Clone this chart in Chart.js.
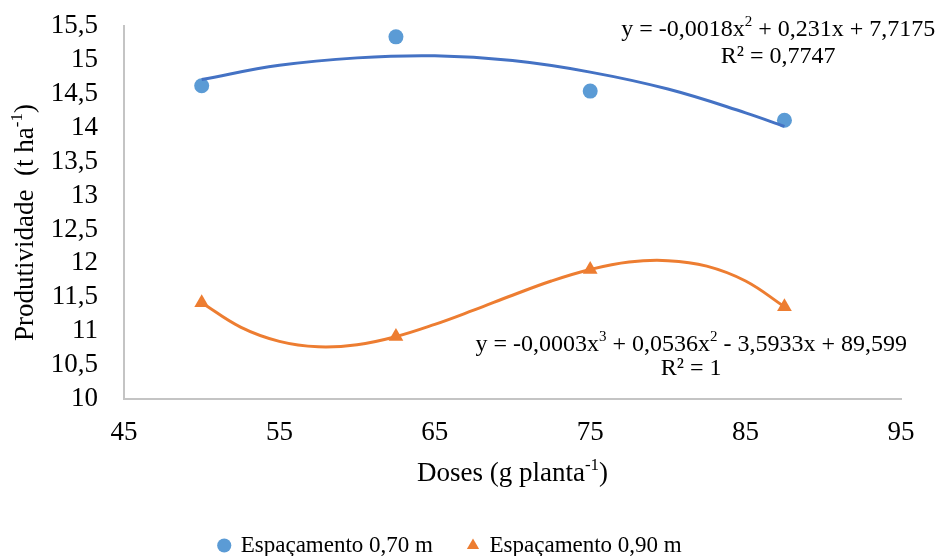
<!DOCTYPE html>
<html lang="pt">
<head>
    <meta charset="UTF-8">
    <title>Produtividade x Doses</title>
    <script src="https://cdn.jsdelivr.net/npm/chart.js"></script>
    <style>
        body { margin: 0; padding: 0; background-color: white; }
        .chart-box { width: 938px; height: 556px; position: relative; }
    </style>
</head>
<body>
    <div class="chart-box">
        <canvas id="grafico"></canvas>
    </div>
    <script>
        // Dados
        const doses = [50, 62.5, 75, 87.5];
        const esp070 = [14.62, 15.34, 14.54, 14.11];
        const esp090 = [11.42, 10.92, 11.91, 11.36];

        // Linhas de tendência
        const tendX070 = [50, 55, 60, 65, 70, 75, 80, 85, 87.5];
        const tend070 = [14.71, 14.92, 15.03, 15.06, 14.99, 14.82, 14.57, 14.22, 14.02];
        const tendX090 = [50, 52.5, 55, 57.5, 60, 62.5, 65, 67.5, 70, 72.5, 75, 77.5, 80, 82.5, 85, 87.5];
        const tend090 = [11.42, 11.06, 10.85, 10.77, 10.80, 10.92, 11.10, 11.31, 11.53, 11.74, 11.91, 12.02, 12.04, 11.96, 11.74, 11.36];

        const eixoX = { min: 45, max: 95, passo: 10 };
        const eixoY = { min: 10, max: 15.5, passo: 0.5 };

        const azulPonto = '#5B9BD5';
        const azulLinha = '#4472C4';
        const laranja = '#ED7D31';
        const fonte = "'Liberation Serif', 'Times New Roman', serif";

        function pares(xs, ys) {
            return xs.map((x, i) => ({ x: x, y: ys[i] }));
        }

        // Texto com sobrescritos: partes = [[texto, sobrescrito?], ...]
        function textoRico(ctx, partes, x, y, tam, rot) {
            const pequeno = Math.round(tam * 0.62);
            let largura = 0;
            partes.forEach(p => {
                ctx.font = (p[1] ? pequeno : tam) + 'px ' + fonte;
                largura += ctx.measureText(p[0]).width;
            });
            ctx.save();
            ctx.translate(x, y);
            if (rot) ctx.rotate(rot);
            ctx.fillStyle = '#000';
            ctx.textBaseline = 'middle';
            ctx.textAlign = 'left';
            let cx = -largura / 2;
            partes.forEach(p => {
                ctx.font = (p[1] ? pequeno : tam) + 'px ' + fonte;
                ctx.fillText(p[0], cx, p[1] ? -tam * 0.33 : 0);
                cx += ctx.measureText(p[0]).width;
            });
            ctx.restore();
        }

        const anotacoes = {
            id: 'anotacoes',
            afterDraw(chart) {
                const ctx = chart.ctx;
                const sx = chart.scales.x, sy = chart.scales.y;
                const area = chart.chartArea;
                // títulos dos eixos
                textoRico(ctx, [['Produtividade  (t ha', 0], ['-1', 1], [')', 0]], 26, (area.top + area.bottom) / 2 + 10, 27, -Math.PI / 2);
                textoRico(ctx, [['Doses (g planta', 0], ['-1', 1], [')', 0]], (area.left + area.right) / 2, 474, 27, 0);
                // equações
                textoRico(ctx, [['y = -0,0018x', 0], ['2', 1], [' + 0,231x + 7,7175', 0]], sx.getPixelForValue(87.1), sy.getPixelForValue(15.44), 24, 0);
                textoRico(ctx, [['R² = 0,7747', 0]], sx.getPixelForValue(87.1), sy.getPixelForValue(15.04), 24, 0);
                textoRico(ctx, [['y = -0,0003x', 0], ['3', 1], [' + 0,0536x', 0], ['2', 1], [' - 3,5933x + 89,599', 0]], sx.getPixelForValue(81.5), sy.getPixelForValue(10.8), 24, 0);
                textoRico(ctx, [['R² = 1', 0]], sx.getPixelForValue(81.5), sy.getPixelForValue(10.44), 24, 0);
            }
        };

        const virgula = v => String(v).replace('.', ',');

        const ctx = document.getElementById('grafico').getContext('2d');
        new Chart(ctx, {
            type: 'scatter',
            data: {
                datasets: [{
                    label: 'tend070',
                    data: pares(tendX070, tend070),
                    showLine: true,
                    borderColor: azulLinha,
                    borderWidth: 3,
                    pointRadius: 0,
                    tension: 0.4,
                    fill: false
                }, {
                    label: 'tend090',
                    data: pares(tendX090, tend090),
                    showLine: true,
                    borderColor: laranja,
                    borderWidth: 3,
                    pointRadius: 0,
                    tension: 0.4,
                    fill: false
                }, {
                    label: 'Espaçamento 0,70 m',
                    data: pares(doses, esp070),
                    pointStyle: 'circle',
                    pointRadius: 7.5,
                    backgroundColor: azulPonto,
                    borderColor: azulPonto,
                    borderWidth: 0
                }, {
                    label: 'Espaçamento 0,90 m',
                    data: pares(doses, esp090),
                    pointStyle: 'triangle',
                    pointRadius: 8.5,
                    backgroundColor: laranja,
                    borderColor: laranja,
                    borderWidth: 0
                }]
            },
            options: {
                responsive: true,
                maintainAspectRatio: false,
                animation: false,
                layout: { padding: { left: 0, right: 37, top: 26, bottom: -11 } },
                plugins: {
                    tooltip: { enabled: false },
                    legend: {
                        position: 'bottom',
                        labels: {
                            filter: item => item.text.indexOf('tend') !== 0,
                            usePointStyle: true,
                            boxWidth: 10,
                            boxHeight: 10,
                            padding: 35,
                            color: '#000',
                            font: { family: fonte, size: 23 }
                        }
                    }
                },
                scales: {
                    x: {
                        type: 'linear',
                        min: eixoX.min,
                        max: eixoX.max,
                        ticks: {
                            stepSize: eixoX.passo,
                            padding: 18,
                            color: '#000',
                            font: { family: fonte, size: 27 },
                            callback: v => virgula(v)
                        },
                        grid: { display: false, drawTicks: false },
                        border: { display: true, color: '#c4c4c4', width: 2 },
                        afterFit: a => { a.height = 100; }
                    },
                    y: {
                        min: eixoY.min,
                        max: eixoY.max,
                        ticks: {
                            stepSize: eixoY.passo,
                            autoSkip: false,
                            padding: 0,
                            color: '#000',
                            font: { family: fonte, size: 27 },
                            callback: v => virgula(v)
                        },
                        // marcas invisíveis só para afastar os rótulos do eixo
                        grid: { display: true, drawOnChartArea: false, drawTicks: true, tickLength: 26, color: 'rgba(0,0,0,0)' },
                        border: { display: true, color: '#c4c4c4', width: 2 },
                        afterFit: a => { a.width = 124; }
                    }
                }
            },
            plugins: [anotacoes]
        });
    </script>
</body>
</html>
